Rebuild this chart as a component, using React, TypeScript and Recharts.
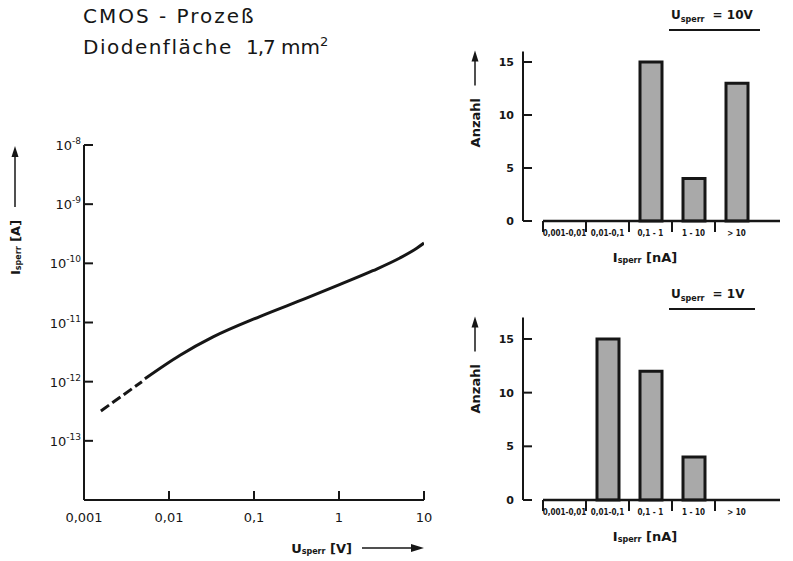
import React from 'react';
import { LineChart, Line, BarChart, Bar, XAxis, YAxis } from 'recharts';

const FONT = '"DejaVu Sans", Verdana, sans-serif';
const NARROW = '"Liberation Sans Narrow", "DejaVu Sans Condensed", sans-serif';
const INK = '#161616';

// I_sperr over U_sperr
const dashVolt = [0.00158, 0.0048];
const dashAmp = [3.2e-13, 1.0e-12];
const solidVolt = [0.0052, 0.0135, 0.033, 0.117, 0.42, 1.03, 2.5, 5.2, 8.3, 10];
const solidAmp = [1.12e-12, 2.8e-12, 5.7e-12, 1.26e-11, 2.6e-11, 4.4e-11, 7.5e-11, 1.23e-10, 1.82e-10, 2.2e-10];

const voltTicks = [0.001, 0.01, 0.1, 1, 10];
const voltTickLabels = ['0,001', '0,01', '0,1', '1', '10'];
const ampTicks = [1e-13, 1e-12, 1e-11, 1e-10, 1e-9, 1e-8];
const ampTickExps = ['-13', '-12', '-11', '-10', '-9', '-8'];

// histograms
const rangeLabels = ['0,001-0,01', '0,01-0,1', '0,1 - 1', '1 - 10', '> 10'];
const count10V = [0, 0, 15, 4, 13];
const count1V = [0, 15, 12, 4, 0];
const countTicks = [0, 5, 10, 15];

const dashData = dashVolt.map((u, i) => ({ u, i: dashAmp[i] }));
const solidData = solidVolt.map((u, i) => ({ u, i: solidAmp[i] }));
const hist10V = rangeLabels.map((range, i) => ({ range, n: count10V[i] }));
const hist1V = rangeLabels.map((range, i) => ({ range, n: count1V[i] }));

const VoltTick = (props: any) => {
  const { x, y, payload } = props;
  const idx = voltTicks.indexOf(payload.value);
  return (
    <g>
      <line x1={x} x2={x} y1={y} y2={y - 9} stroke={INK} strokeWidth={2} />
      <text x={x} y={y + 22} textAnchor="middle" fontSize={13} fontFamily={FONT} fill={INK}>
        {voltTickLabels[idx]}
      </text>
    </g>
  );
};

const AmpTick = (props: any) => {
  const { x, y, payload } = props;
  const idx = ampTicks.indexOf(payload.value);
  return (
    <g>
      <line x1={x} x2={x + 9} y1={y} y2={y} stroke={INK} strokeWidth={2} />
      <text x={x - 3} y={y + 5} textAnchor="end" fontSize={13} fontFamily={FONT} fill={INK}>
        10<tspan dy={-6} fontSize={9}>{ampTickExps[idx]}</tspan>
      </text>
    </g>
  );
};

const AmpLabel = (props: any) => {
  const { viewBox } = props;
  const base = viewBox.y + 130;
  return (
    <g transform={`translate(${viewBox.x + 15},${base}) rotate(-90)`}>
      <text x={0} y={0} dominantBaseline="central" fontSize={13} fontWeight="bold" fontFamily={FONT} fill={INK}>
        I<tspan fontSize={8} dy={3}>sperr</tspan>
        <tspan dy={-3}> [A]</tspan>
      </text>
      <line x1={68} x2={120} y1={0} y2={0} stroke={INK} strokeWidth={1.5} />
      <polygon points="129,0 118,-3.5 118,3.5" fill={INK} />
    </g>
  );
};

const VoltLabel = (props: any) => {
  const { viewBox } = props;
  const right = viewBox.x + viewBox.width;
  const y = viewBox.y + 48;
  return (
    <g>
      <text x={right - 72} y={y} textAnchor="end" dominantBaseline="central" fontSize={13} fontWeight="bold" fontFamily={FONT} fill={INK}>
        U<tspan fontSize={8} dy={3}>sperr</tspan>
        <tspan dy={-3}> [V]</tspan>
      </text>
      <line x1={right - 62} x2={right - 10} y1={y} y2={y} stroke={INK} strokeWidth={1.5} />
      <polygon points={`${right},${y} ${right - 13},${y - 4} ${right - 13},${y + 4}`} fill={INK} />
    </g>
  );
};

const RangeTick = (props: any) => {
  const { x, y, payload, index } = props;
  const half = payload.offset ?? 21.5;
  const left = x - half;
  const right = x + half + (index === rangeLabels.length - 1 ? 22 : 0);
  return (
    <g>
      <line x1={left} x2={right} y1={y} y2={y} stroke={INK} strokeWidth={2.5} />
      <line x1={left} x2={left} y1={y} y2={y + 11} stroke={INK} strokeWidth={2} />
      <text x={x} y={y + 15} textAnchor="middle" fontSize={8} fontWeight="bold" fontFamily={NARROW} fill={INK}>
        {payload.value}
      </text>
    </g>
  );
};

const CountTick = (props: any) => {
  const { x, y, payload } = props;
  return (
    <g>
      <line x1={x} x2={x + 9} y1={y} y2={y} stroke={INK} strokeWidth={2} />
      <text x={x - 9} y={y + 4} textAnchor="end" fontSize={11} fontWeight="bold" fontFamily={FONT} fill={INK}>
        {payload.value}
      </text>
    </g>
  );
};

const CountLabel = (props: any) => {
  const { viewBox } = props;
  return (
    <g transform={`translate(${viewBox.x + 15},${viewBox.y + 96}) rotate(-90)`}>
      <text x={0} y={0} dominantBaseline="central" fontSize={13} fontWeight="bold" fontFamily={FONT} fill={INK}>
        Anzahl
      </text>
      <line x1={62} x2={88} y1={0} y2={0} stroke={INK} strokeWidth={1.5} />
      <polygon points="97,0 86,-3.5 86,3.5" fill={INK} />
    </g>
  );
};

const RangeLabel = (props: any) => {
  const { viewBox } = props;
  return (
    <text x={viewBox.x + 122} y={viewBox.y + 36} textAnchor="middle" dominantBaseline="central" fontSize={13} fontWeight="bold" fontFamily={FONT} fill={INK}>
      I<tspan fontSize={8} dy={3}>sperr</tspan>
      <tspan dy={-3}> [nA]</tspan>
    </text>
  );
};

const Heading = ({ left, top, width, volts }: { left: number; top: number; width: number; volts: string }) => (
  <div style={{ position: 'absolute', left, top, width, fontFamily: FONT, fontWeight: 'bold', fontSize: 12, lineHeight: '14px', color: INK }}>
    <div style={{ paddingLeft: 2, whiteSpace: 'nowrap' }}>
      U<span style={{ fontSize: 8, position: 'relative', top: 3 }}>sperr</span>
      <span style={{ marginLeft: 8 }}>= {volts}</span>
    </div>
    <div style={{ borderTop: `2px solid ${INK}`, marginTop: 5 }} />
  </div>
);

const Histogram = ({ data, max, top, height, marginTop }: { data: any[]; max: number; top: number; height: number; marginTop: number }) => (
  <div style={{ position: 'absolute', left: 460, top }}>
    <BarChart width={333} height={height} data={data} margin={{ top: marginTop, right: 13, bottom: height === 280 ? 19 : 21, left: 0 }} barSize={22}>
      <XAxis
        dataKey="range"
        axisLine={false}
        tickLine={false}
        tickSize={0}
        tickMargin={0}
        interval={0}
        height={40}
        padding={{ left: 20, right: 22 }}
        tick={<RangeTick />}
        label={<RangeLabel />}
      />
      <YAxis
        type="number"
        domain={[0, max]}
        ticks={countTicks}
        interval={0}
        width={63}
        tickSize={0}
        tickMargin={0}
        tickLine={false}
        axisLine={{ stroke: INK, strokeWidth: 2 }}
        tick={<CountTick />}
        label={<CountLabel />}
      />
      <Bar dataKey="n" fill="#a9a9a9" stroke={INK} strokeWidth={3} isAnimationActive={false} />
    </BarChart>
  </div>
);

export default function App() {
  return (
    <div style={{ position: 'absolute', left: 0, top: 0, width: 793, height: 561, background: '#fff', fontFamily: FONT, color: INK }}>
      <div style={{ position: 'absolute', left: 83, top: 4, fontSize: 20, letterSpacing: 2, whiteSpace: 'nowrap' }}>CMOS - Prozeß</div>
      <div style={{ position: 'absolute', left: 83, top: 34, fontSize: 20, letterSpacing: 1.5, whiteSpace: 'nowrap' }}>
        Diodenfläche&nbsp;
        <span style={{ letterSpacing: -1 }}> 1,7</span>
        <span style={{ letterSpacing: 0 }}> mm</span>
        <sup style={{ fontSize: 13 }}>2</sup>
      </div>

      <div style={{ position: 'absolute', left: 0, top: 0 }}>
        <LineChart width={450} height={561} margin={{ top: 145, right: 26, bottom: 31, left: 0 }}>
          <XAxis
            dataKey="u"
            type="number"
            scale="log"
            domain={[0.001, 10]}
            allowDataOverflow
            ticks={voltTicks}
            interval={0}
            height={30}
            tickSize={0}
            tickMargin={0}
            tickLine={false}
            axisLine={{ stroke: INK, strokeWidth: 2 }}
            tick={<VoltTick />}
            label={<VoltLabel />}
          />
          <YAxis
            type="number"
            scale="log"
            domain={[1e-14, 1e-8]}
            allowDataOverflow
            ticks={ampTicks}
            interval={0}
            width={84}
            tickSize={0}
            tickMargin={0}
            tickLine={false}
            axisLine={{ stroke: INK, strokeWidth: 2 }}
            tick={<AmpTick />}
            label={<AmpLabel />}
          />
          <Line data={dashData} dataKey="i" type="monotone" stroke={INK} strokeWidth={3} strokeDasharray="10 4" dot={false} isAnimationActive={false} />
          <Line data={solidData} dataKey="i" type="monotone" stroke={INK} strokeWidth={3} dot={false} isAnimationActive={false} />
        </LineChart>
      </div>

      <Heading left={669} top={8} width={91} volts="10V" />
      <Histogram data={hist10V} max={16} top={0} height={280} marginTop={51.4} />

      <Heading left={669} top={287} width={86} volts="1V" />
      <Histogram data={hist1V} max={17} top={280} height={281} marginTop={37.5} />
    </div>
  );
}
